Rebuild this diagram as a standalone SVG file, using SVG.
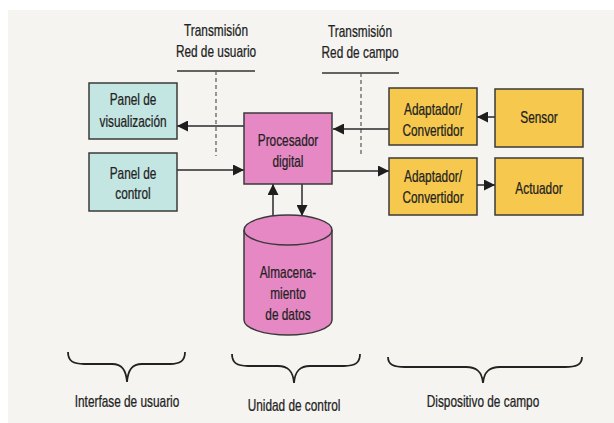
<svg xmlns="http://www.w3.org/2000/svg" width="614" height="423" viewBox="0 0 614 423">
  <defs>
    <marker id="arrow" viewBox="0 0 10 10" refX="10" refY="5" markerWidth="11" markerHeight="11" markerUnits="userSpaceOnUse" orient="auto">
      <path d="M0,0 L10,5 L0,10 Z" fill="#1e1e1e"/>
    </marker>
  </defs>
  <style>
    text { font-family: "Liberation Sans", Arial, sans-serif; font-size: 16px; fill: #222; text-anchor: middle; stroke: #222; stroke-width: 0.25; }
    .box { stroke: #3a3a3a; stroke-width: 1.5; }
    .user { fill: #c4e6e3; }
    .ctrl { fill: #e688c4; }
    .field { fill: #f6c84e; }
    .link { stroke: #2a2a2a; stroke-width: 1.5; fill: none; marker-end: url(#arrow); }
    .rule { stroke: #333; stroke-width: 1.5; }
    .dash { stroke: #555; stroke-width: 1.2; stroke-dasharray: 4 3; }
    .brace { stroke: #222; stroke-width: 1.8; fill: none; }
  </style>

  <!-- page -->
  <rect width="614" height="423" fill="#ffffff"/>
  <rect x="8" y="10" width="606" height="413" fill="#f5f4f1"/>

  <!-- network headings (condensed lettering: horizontal scale 0.74) -->
  <g id="user-network">
    <text transform="translate(216,36) scale(0.74,1)">Transmisión</text>
    <text transform="translate(216,57) scale(0.74,1)">Red de usuario</text>
    <line class="rule" x1="177" y1="71" x2="255" y2="71"/>
    <line class="dash" x1="216" y1="71" x2="216" y2="156"/>
  </g>
  <g id="field-network">
    <text transform="translate(360,37) scale(0.74,1)">Transmisión</text>
    <text transform="translate(360,58) scale(0.74,1)">Red de campo</text>
    <line class="rule" x1="322" y1="73" x2="399" y2="73"/>
    <line class="dash" x1="361" y1="73" x2="361" y2="156"/>
  </g>

  <!-- connectors -->
  <g id="connectors">
    <line class="link" x1="244" y1="126" x2="177" y2="126"/>
    <line class="link" x1="177" y1="170" x2="244" y2="170"/>
    <line class="link" x1="389" y1="129" x2="333" y2="129"/>
    <line class="link" x1="332" y1="171" x2="389" y2="171"/>
    <line class="link" x1="495" y1="117" x2="477" y2="117"/>
    <line class="link" x1="477" y1="185" x2="495" y2="185"/>
    <line class="link" x1="273" y1="216" x2="273" y2="184"/>
    <line class="link" x1="302" y1="184" x2="302" y2="216"/>
  </g>

  <!-- user interface -->
  <g id="panel-visualizacion">
    <rect class="box user" x="89" y="83" width="88" height="56"/>
    <text transform="translate(133,105) scale(0.74,1)">Panel de</text>
    <text transform="translate(133,127) scale(0.74,1)">visualización</text>
  </g>
  <g id="panel-control">
    <rect class="box user" x="89" y="153" width="88" height="58"/>
    <text transform="translate(133,179) scale(0.74,1)">Panel de</text>
    <text transform="translate(133,199) scale(0.74,1)">control</text>
  </g>

  <!-- control unit -->
  <g id="procesador">
    <rect class="box ctrl" x="244" y="113" width="88" height="71"/>
    <text transform="translate(288,146) scale(0.74,1)">Procesador</text>
    <text transform="translate(288,167) scale(0.74,1)">digital</text>
  </g>
  <g id="almacenamiento">
    <path class="box ctrl" d="M244,230 A44,15 0 0 1 332,230 L332,320 A44,15 0 0 1 244,320 Z"/>
    <path class="box" fill="none" d="M244,230 A44,15 0 0 0 332,230"/>
    <text transform="translate(288,278) scale(0.74,1)">Almacena-</text>
    <text transform="translate(288,299) scale(0.74,1)">miento</text>
    <text transform="translate(288,320) scale(0.74,1)">de datos</text>
  </g>

  <!-- field device -->
  <g id="adaptador-entrada">
    <rect class="box field" x="389" y="88" width="88" height="57"/>
    <text transform="translate(433,115) scale(0.74,1)">Adaptador/</text>
    <text transform="translate(433,136) scale(0.74,1)">Convertidor</text>
  </g>
  <g id="sensor">
    <rect class="box field" x="495" y="89" width="88" height="58"/>
    <text transform="translate(539,123) scale(0.74,1)">Sensor</text>
  </g>
  <g id="adaptador-salida">
    <rect class="box field" x="389" y="158" width="88" height="57"/>
    <text transform="translate(433,182) scale(0.74,1)">Adaptador/</text>
    <text transform="translate(433,203) scale(0.74,1)">Convertidor</text>
  </g>
  <g id="actuador">
    <rect class="box field" x="495" y="158" width="88" height="57"/>
    <text transform="translate(539,194) scale(0.74,1)">Actuador</text>
  </g>

  <!-- groupings -->
  <g id="interfase-usuario">
    <path class="brace" d="M68,352 C68,361 73,364 84,364 L112,364 C122,364 126,370 127,382 C128,370 132,364 142,364 L170,364 C180,364 185,361 185,352"/>
    <text transform="translate(127,407) scale(0.74,1)">Interfase de usuario</text>
  </g>
  <g id="unidad-control">
    <path class="brace" d="M232,354 C232,363 237,366 248,366 L278,366 C288,366 293,371 294,383 C295,371 300,366 310,366 L344,366 C355,366 360,363 360,354"/>
    <text transform="translate(294,411) scale(0.74,1)">Unidad de control</text>
  </g>
  <g id="dispositivo-campo">
    <path class="brace" d="M388,357 C388,365 394,367 405,367 L466,367 C477,367 482,372 483,383 C484,372 489,367 500,367 L565,367 C576,367 582,365 582,357"/>
    <text transform="translate(483,407) scale(0.74,1)">Dispositivo de campo</text>
  </g>
</svg>
